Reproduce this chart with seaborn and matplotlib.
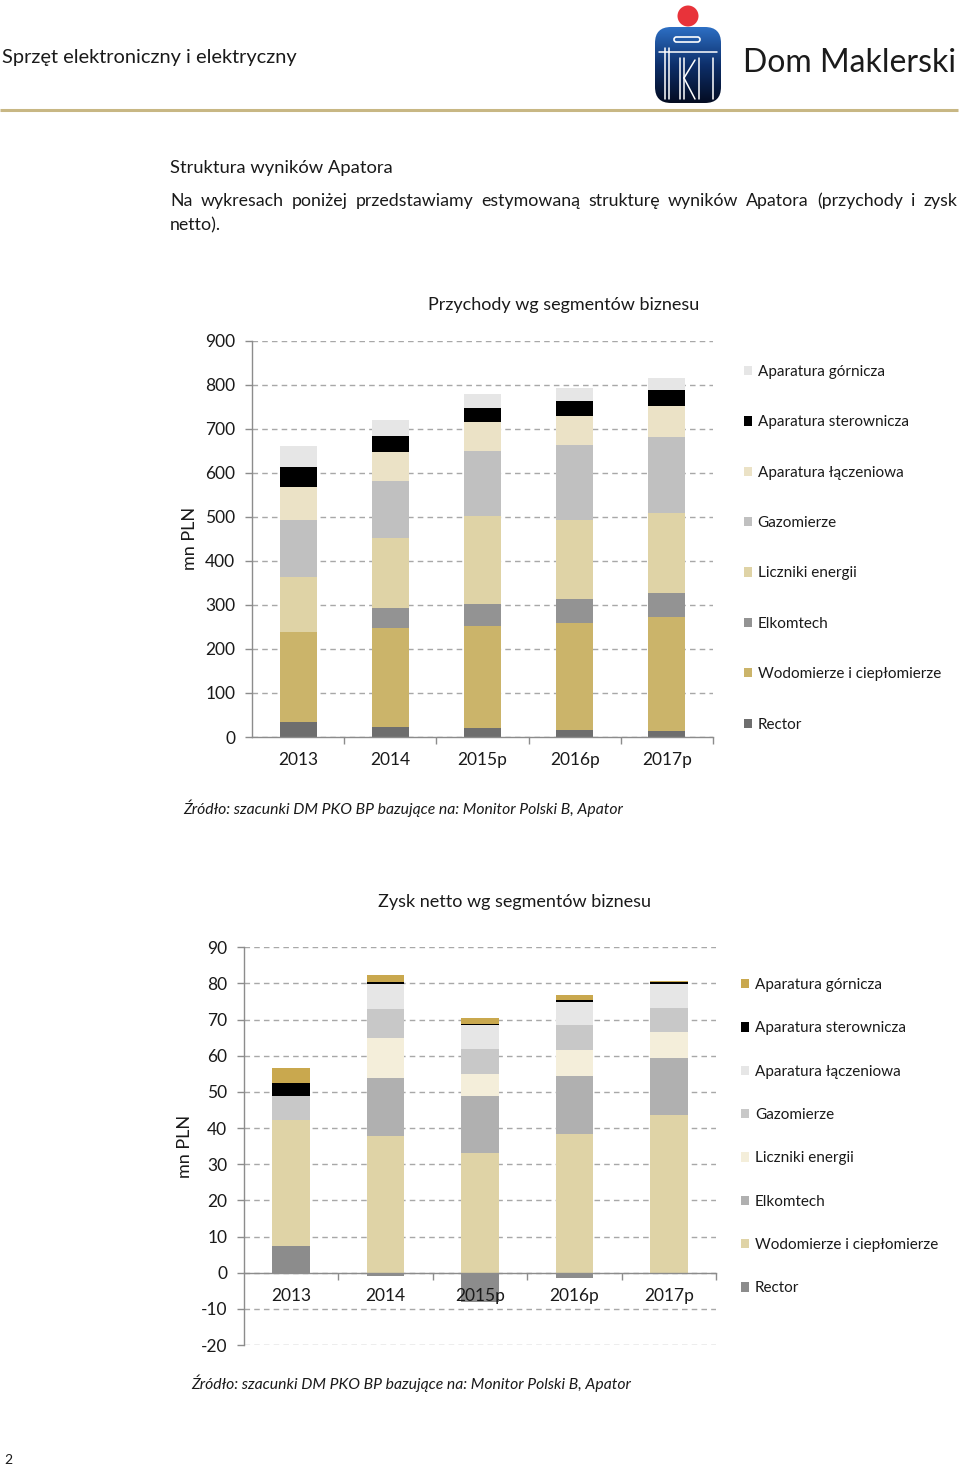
import numpy as np
import pandas as pd
import matplotlib
matplotlib.use("Agg")
import matplotlib.pyplot as plt
import seaborn as sns
from matplotlib.patches import FancyBboxPatch, Circle, Patch
from matplotlib.colors import LinearSegmentedColormap

# ---------------- data ----------------
years = ["2013", "2014", "2015p", "2016p", "2017p"]
segments = ["Rector", "Wodomierze i ciepłomierze", "Elkomtech", "Liczniki energii",
            "Gazomierze", "Aparatura łączeniowa", "Aparatura sterownicza", "Aparatura górnicza"]

# Przychody (mn PLN)
rev_rector = [33, 22, 20, 17, 14]
rev_wodomierze = [205, 225, 232, 243, 259]
rev_elkomtech = [0, 45, 51, 54, 55]
rev_liczniki = [125, 159, 198, 179, 181]
rev_gazomierze = [130, 130, 149, 169, 173]
rev_laczeniowa = [74, 66, 66, 67, 70]
rev_sterownicza = [47, 37, 32, 35, 35]
rev_gornicza = [46, 36, 32, 28, 28]

# Zysk netto (mn PLN)
np_rector = [7.5, -1.0, -8.0, -1.6, -0.4]
np_wodomierze = [34.8, 37.9, 33.0, 38.4, 43.5]
np_elkomtech = [0, 16.0, 15.9, 16.0, 15.9]
np_liczniki = [0, 11.1, 6.0, 7.1, 7.1]
np_gazomierze = [6.6, 7.8, 7.0, 6.9, 6.8]
np_laczeniowa = [0, 7.1, 6.5, 6.5, 6.6]
np_sterownicza = [3.7, 0.4, 0.5, 0.5, 0.5]
np_gornicza = [4.0, 2.1, 1.5, 1.5, 0.4]

rev_layers = [rev_rector, rev_wodomierze, rev_elkomtech, rev_liczniki,
              rev_gazomierze, rev_laczeniowa, rev_sterownicza, rev_gornicza]
np_layers = [np_rector, np_wodomierze, np_elkomtech, np_liczniki,
             np_gazomierze, np_laczeniowa, np_sterownicza, np_gornicza]

rev_colors = ["#6E6E6E", "#CBB46A", "#939393", "#DFD3A6",
              "#C0C0C0", "#EBE2C6", "#000000", "#E6E6E6"]
np_colors = ["#8C8C8C", "#DFD3A6", "#B0B0B0", "#F4EEDA",
             "#C8C8C8", "#E6E6E6", "#000000", "#C9A84E"]

# ---------------- setup ----------------
sns.set_theme(style="white")
plt.rcParams["font.family"] = ["Lato", "DejaVu Sans"]
plt.rcParams["axes.unicode_minus"] = False
TXT = "#1a1a1a"
AXC = "#8C8C8C"

W, H = 960, 1466
fig = plt.figure(figsize=(W / 100, H / 100), dpi=100)


def rect(l, t, r, b):
    return [l / W, 1 - b / H, (r - l) / W, (b - t) / H]


# overlay axes in pixel coordinates for page decoration
ov = fig.add_axes([0, 0, 1, 1], zorder=0)
ov.set_axis_off()

ax1 = fig.add_axes(rect(252, 340.7, 713, 737), zorder=1)
ax2 = fig.add_axes(rect(244, 947.3, 716, 1345), zorder=1)


def stacked(ax, layers, colors):
    pos = np.zeros(len(years))
    neg = np.zeros(len(years))
    for vals, col in zip(layers, colors):
        v = np.array(vals, dtype=float)
        bottom = np.where(v >= 0, pos, neg)
        df = pd.DataFrame({"year": years, "value": v})
        sns.barplot(data=df, x="year", y="value", order=years, color=col,
                    saturation=1, width=0.4, errorbar=None, bottom=bottom,
                    linewidth=0, edgecolor="none", ax=ax)
        pos = np.where(v >= 0, pos + v, pos)
        neg = np.where(v < 0, neg + v, neg)


def style(ax, lo, hi, step, label_x, label_y):
    ax.set_xlim(-0.5, 4.5)
    ax.set_ylim(lo, hi)
    ax.set_yticks(np.arange(lo, hi + step / 2, step))
    ax.yaxis.grid(True, linestyle=(0, (4, 3)), color="#A8A8A8", linewidth=1)
    ax.xaxis.grid(False)
    ax.set_axisbelow(True)
    ax.xaxis.set_zorder(3)
    for s in ["top", "right"]:
        ax.spines[s].set_visible(False)
    for s in ["left", "bottom"]:
        ax.spines[s].set_color(AXC)
        ax.spines[s].set_linewidth(1)
    ax.tick_params(axis="y", length=5, color=AXC, width=1, pad=7,
                   labelsize=12.5, labelcolor=TXT, left=True)
    ax.set_xticks(range(len(years)))
    ax.set_xticklabels(years)
    ax.set_xticks(np.arange(0.5, len(years), 1), minor=True)
    ax.tick_params(axis="x", which="major", length=0, pad=11,
                   labelsize=12.5, labelcolor=TXT)
    ax.tick_params(axis="x", which="minor", length=5, color=AXC, width=1,
                   direction="out", bottom=True)
    ax.set_xlabel("")
    ax.set_ylabel("mn PLN", fontsize=13, color=TXT)
    ax.yaxis.set_label_coords(label_x, label_y)


stacked(ax1, rev_layers, rev_colors)
style(ax1, 0, 900, 100, -0.117, 0.5)

stacked(ax2, np_layers, np_colors)
style(ax2, -20, 90, 10, -0.108, 0.5)
ax2.spines["bottom"].set_position(("data", 0))
ax2.spines["bottom"].set_zorder(3)

# legends (top entry = last segment)
def add_legend(ax, colors, anchor, spacing):
    handles = [Patch(facecolor=c, edgecolor="none", label=s)
               for s, c in zip(segments[::-1], colors[::-1])]
    ax.legend(handles=handles, loc="upper left", bbox_to_anchor=anchor,
              bbox_transform=fig.transFigure, frameon=False, fontsize=11,
              handlelength=0.55, handleheight=0.55, handletextpad=0.35,
              labelspacing=spacing, borderpad=0, borderaxespad=0,
              labelcolor=TXT)

add_legend(ax1, rev_colors, (744 / W, 1 - 365 / H), 2.38)
add_legend(ax2, np_colors, (741 / W, 1 - 978 / H), 1.92)

# ---------------- page decoration ----------------
ov.set_xlim(0, W)
ov.set_ylim(H, 0)

ov.text(2, 57, "Sprzęt elektroniczny i elektryczny", fontsize=14.4, color=TXT,
        va="center", ha="left")
ov.plot([0, 958], [110, 110], color="#C8B784", linewidth=2.2,
        solid_capstyle="butt")

# logo
grad = np.linspace(0, 1, 200).reshape(-1, 1)
cmap = LinearSegmentedColormap.from_list("pko", ["#2d6fc4", "#0d2f6a", "#040c22"])
im = ov.imshow(grad, extent=(655, 721, 103, 27), cmap=cmap, aspect="auto",
               zorder=2, interpolation="bilinear")
box = FancyBboxPatch((655, 27), 66, 76, boxstyle="round,pad=0,rounding_size=16",
                     fc="none", ec="none", transform=ov.transData)
ov.add_patch(box)
im.set_clip_path(box)
ov.add_patch(FancyBboxPatch((674, 37), 26, 5, boxstyle="round,pad=0,rounding_size=2.5",
                            fc="none", ec="white", lw=1.2, zorder=3))
for xs, ys in [([665, 665], [48, 99]), ([669, 669], [48, 99]),
               ([680, 680], [58, 99]), ([684, 684], [58, 99]),
               ([684, 695], [78, 60]), ([684, 695], [78, 99]),
               ([699, 699], [58, 99]), ([713, 713], [58, 99]),
               ([659, 717], [52, 52])]:
    ov.plot(xs, ys, color="white", lw=1.1, zorder=3)
ov.add_patch(Circle((688, 16), 10.5, fc="#E8333A", ec="none", zorder=3))
ov.set_xlim(0, W)
ov.set_ylim(H, 0)
ov.text(743, 63, "Dom Maklerski", fontsize=23, color="#1b1b1b",
        va="center", ha="left")

ov.text(170, 168, "Struktura wyników Apatora", fontsize=13.2, color=TXT,
        va="center", ha="left")

# justified paragraph line
renderer = fig.canvas.get_renderer()
line1 = "Na wykresach poniżej przedstawiamy estymowaną strukturę wyników Apatora (przychody i zysk"
words = line1.split(" ")
objs = [ov.text(0, 201, w, fontsize=12.8, color=TXT, va="center", ha="left")
        for w in words]
widths = []
for t in objs:
    bb = t.get_window_extent(renderer=renderer)
    widths.append(bb.width)
gap = (957 - 170 - sum(widths)) / (len(words) - 1)
x = 170
for t, wd in zip(objs, widths):
    t.set_x(x)
    x += wd + gap
ov.text(170, 225, "netto).", fontsize=12.8, color=TXT, va="center", ha="left")

ov.text(564, 305, "Przychody wg segmentów biznesu", fontsize=13, color=TXT,
        va="center", ha="center")
ov.text(515, 902, "Zysk netto wg segmentów biznesu", fontsize=13, color=TXT,
        va="center", ha="center")

src = "Źródło: szacunki DM PKO BP bazujące na: Monitor Polski B, Apator"
ov.text(183, 808, src, fontsize=11.3, style="italic", color=TXT, va="center", ha="left")
ov.text(191, 1383, src, fontsize=11.3, style="italic", color=TXT, va="center", ha="left")
ov.text(4, 1460, "2", fontsize=10, color=TXT, va="center", ha="left")

fig.savefig("out.png", dpi=100, facecolor="white")
